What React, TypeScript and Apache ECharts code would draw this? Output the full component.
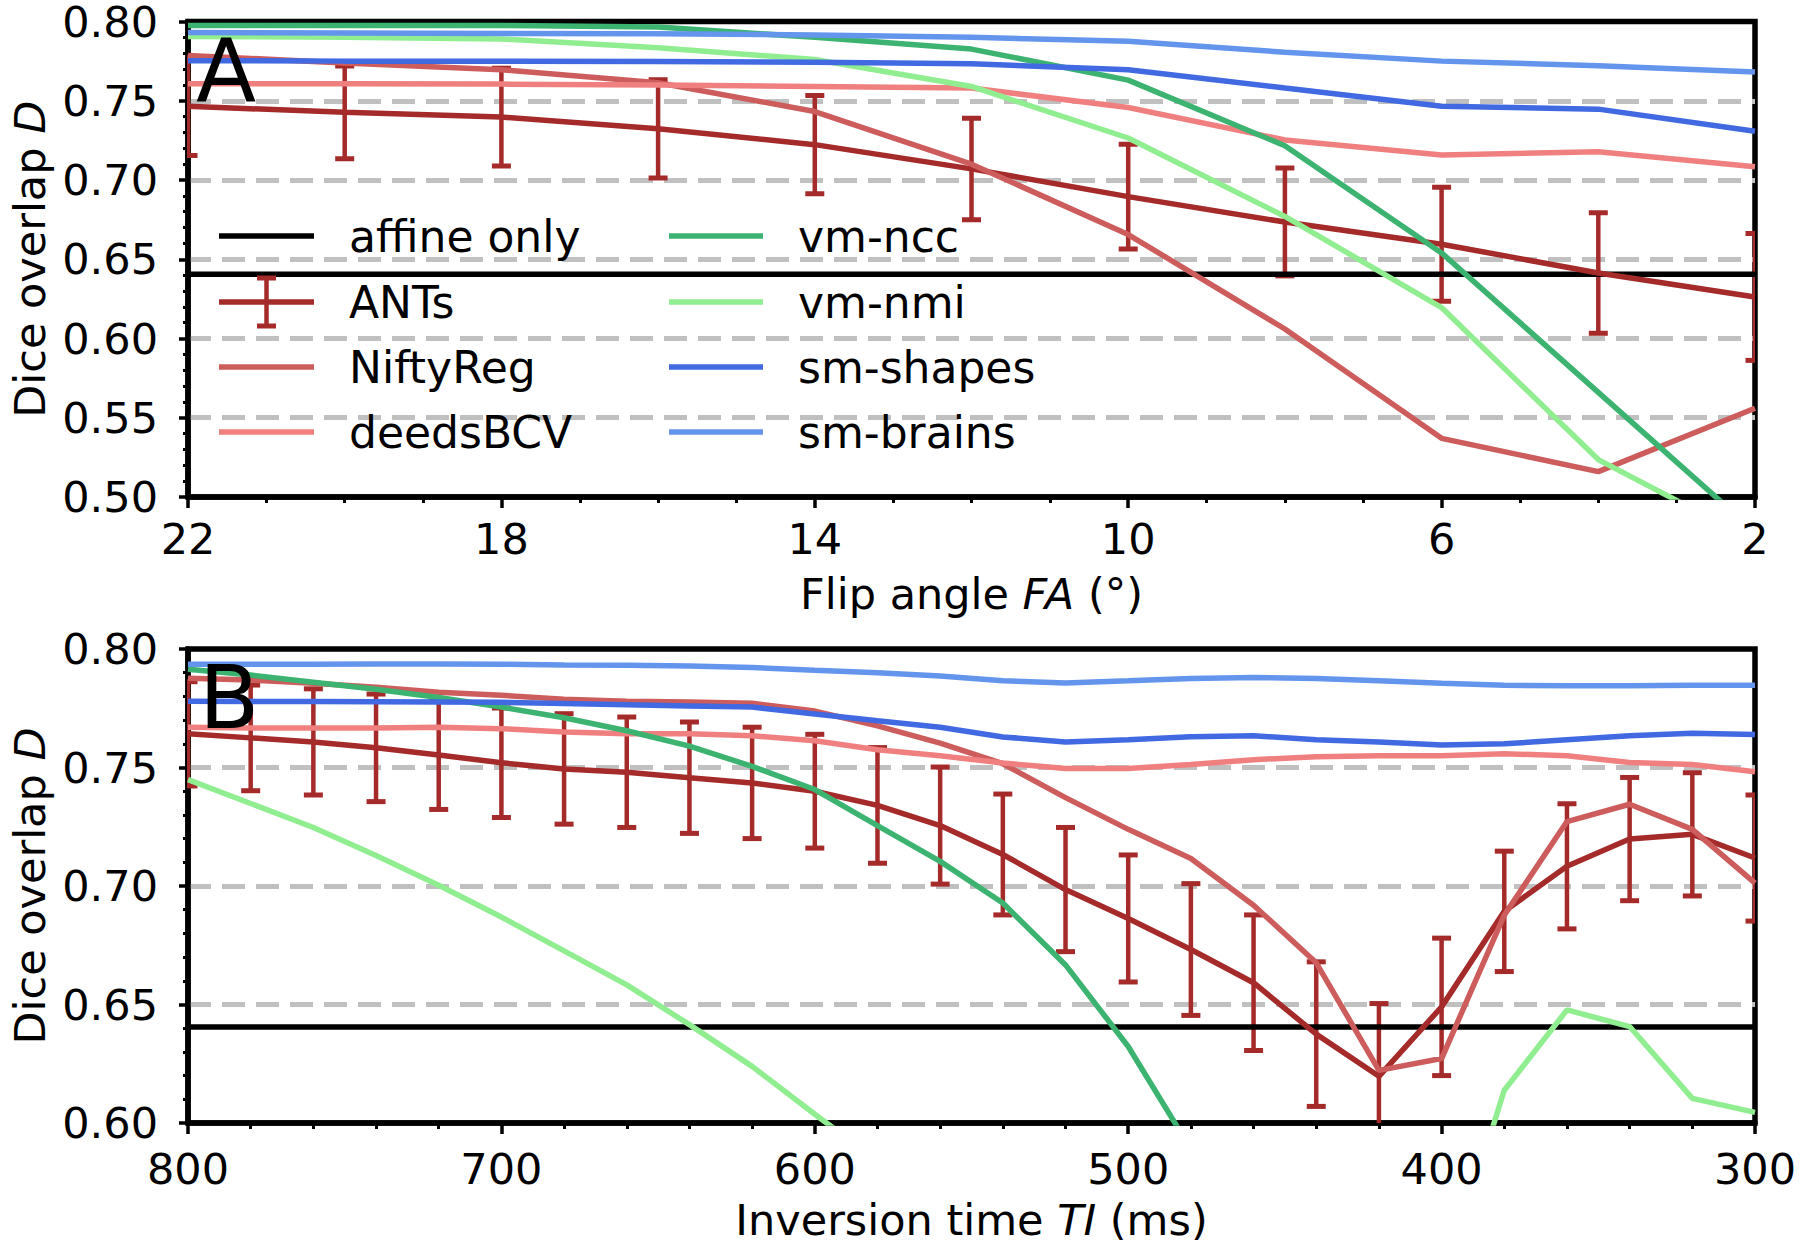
import React, { useEffect, useRef } from "react";
import * as echarts from "echarts";

const FONT = '"DejaVu Sans", "Liberation Sans", sans-serif';
const FS = 43;

// ---------- Panel A: flip angle ----------
const flipAngles = [22, 20, 18, 16, 14, 12, 10, 8, 6, 4, 2];
const affineA = 0.6405;
const antsMeanA = [0.7465, 0.7427, 0.7397, 0.7323, 0.7223, 0.707, 0.6895, 0.6735, 0.6595, 0.6413, 0.6262];
const antsStdA = [0.031, 0.0293, 0.0308, 0.031, 0.031, 0.032, 0.033, 0.034, 0.036, 0.038, 0.04];
const niftyRegA = [0.7786, 0.7738, 0.7696, 0.7614, 0.7432, 0.71, 0.6656, 0.606, 0.537, 0.516, 0.556];
const deedsA = [0.7608, 0.7607, 0.7605, 0.76, 0.759, 0.758, 0.7457, 0.7253, 0.7158, 0.7178, 0.7084];
const vmNccA = [0.7975, 0.7975, 0.7975, 0.7965, 0.79, 0.7826, 0.763, 0.7216, 0.654, 0.566, 0.478];
const vmNmiA = [0.7906, 0.79, 0.789, 0.7835, 0.776, 0.759, 0.7265, 0.677, 0.6195, 0.5236, 0.472];
const smShapesA = [0.7753, 0.775, 0.775, 0.7748, 0.7743, 0.7733, 0.7696, 0.758, 0.7465, 0.7447, 0.7308];
const smBrainsA = [0.7931, 0.7928, 0.7925, 0.7922, 0.7915, 0.79, 0.7875, 0.7806, 0.775, 0.7721, 0.7681];

// ---------- Panel B: inversion time ----------
const inversionTimes = [800, 780, 760, 740, 720, 700, 680, 660, 640, 620, 600, 580, 560, 540, 520, 500, 480, 460, 440, 420, 400, 380, 360, 340, 320, 300];
const affineB = 0.6405;
const antsMeanB = [0.7642, 0.7625, 0.7608, 0.7583, 0.7553, 0.752, 0.7494, 0.748, 0.7457, 0.7435, 0.74, 0.734, 0.7255, 0.7133, 0.6985, 0.6863, 0.6732, 0.6592, 0.6375, 0.6197, 0.649, 0.6893, 0.7083, 0.7198, 0.7218, 0.7118];
const antsStdB = [0.022, 0.0223, 0.0224, 0.0227, 0.023, 0.0231, 0.0233, 0.0233, 0.0235, 0.0235, 0.024, 0.0244, 0.0247, 0.0255, 0.0262, 0.0268, 0.0278, 0.0286, 0.0305, 0.0307, 0.029, 0.0254, 0.0264, 0.026, 0.026, 0.0266];
const niftyRegB = [0.7877, 0.7869, 0.7855, 0.7839, 0.7818, 0.7805, 0.7788, 0.778, 0.7776, 0.7771, 0.7738, 0.7676, 0.7603, 0.7516, 0.7373, 0.7239, 0.7116, 0.6919, 0.6676, 0.6222, 0.6272, 0.6877, 0.7272, 0.7345, 0.7239, 0.7012];
const deedsB = [0.767, 0.7667, 0.7667, 0.7667, 0.767, 0.7664, 0.765, 0.7642, 0.7642, 0.7634, 0.7613, 0.7575, 0.755, 0.7519, 0.7496, 0.7496, 0.7513, 0.7533, 0.7545, 0.755, 0.755, 0.7558, 0.755, 0.7521, 0.7513, 0.7482];
const vmNccB = [0.7915, 0.789, 0.786, 0.783, 0.7795, 0.7755, 0.771, 0.7655, 0.759, 0.7505, 0.7407, 0.7255, 0.7104, 0.6928, 0.6667, 0.6323, 0.589, null, null, null, null, null, null, null, null, null];
const vmNmiB = [0.7449, 0.7348, 0.7247, 0.7129, 0.7003, 0.6869, 0.6726, 0.6583, 0.6415, 0.6239, 0.6037, 0.584, null, null, null, null, null, null, null, null, 0.5295, 0.6138, 0.6477, 0.6407, 0.6104, 0.6045];
const smShapesB = [0.778, 0.7778, 0.7778, 0.7777, 0.7776, 0.7775, 0.777, 0.7765, 0.776, 0.7755, 0.7726, 0.7697, 0.767, 0.7629, 0.7608, 0.7617, 0.763, 0.7634, 0.7617, 0.7608, 0.7595, 0.76, 0.7617, 0.7634, 0.7645, 0.7639];
const smBrainsB = [0.7936, 0.7936, 0.7936, 0.7937, 0.7937, 0.7936, 0.7933, 0.7931, 0.7928, 0.7922, 0.791, 0.79, 0.7886, 0.7866, 0.7857, 0.7866, 0.7876, 0.788, 0.7876, 0.7866, 0.7855, 0.7847, 0.7845, 0.7845, 0.7847, 0.7847];

const seriesNames = ["affine only", "ANTs", "NiftyReg", "deedsBCV", "vm-ncc", "vm-nmi", "sm-shapes", "sm-brains"];
const seriesColors = ["#000000", "#a52a2a", "#cd5c5c", "#f08080", "#3cb371", "#90ee90", "#4169e1", "#6495ed"];

const LW = 5.5;
const SPINE = 5.5;
const BAR_W = 4.5;

function xAxis(gridIndex: number, min: number, max: number, interval: number, minorSplit: number, name: string, labelMargin: number) {
  return {
    type: "value",
    gridIndex,
    min,
    max,
    interval,
    inverse: true,
    name,
    nameLocation: "middle",
    nameGap: 75,
    nameTextStyle: {
      fontSize: FS,
      fontFamily: FONT,
      color: "#000",
      rich: { i: { fontStyle: "italic", fontSize: FS, fontFamily: FONT, color: "#000" } },
    },
    axisLine: { show: true, onZero: false, lineStyle: { color: "#000", width: SPINE } },
    axisTick: { show: true, length: 11, lineStyle: { color: "#000", width: 3.5 } },
    minorTick: { show: true, splitNumber: minorSplit, length: 6, lineStyle: { color: "#000", width: 3 } },
    axisLabel: { fontSize: FS, fontFamily: FONT, color: "#000", margin: labelMargin },
    splitLine: { show: false },
    minorSplitLine: { show: false },
  };
}

function yAxis(gridIndex: number, min: number, max: number) {
  return {
    type: "value",
    gridIndex,
    min,
    max,
    interval: 0.05,
    name: "Dice overlap {i|D}",
    nameLocation: "middle",
    nameGap: 137,
    nameRotate: 90,
    nameTextStyle: {
      fontSize: FS,
      fontFamily: FONT,
      color: "#000",
      rich: { i: { fontStyle: "italic", fontSize: FS, fontFamily: FONT, color: "#000" } },
    },
    axisLine: { show: true, onZero: false, lineStyle: { color: "#000", width: SPINE } },
    axisTick: { show: true, length: 9, lineStyle: { color: "#000", width: 3.5 } },
    minorTick: { show: true, splitNumber: 5, length: 5, lineStyle: { color: "#000", width: 3 } },
    axisLabel: {
      fontSize: FS,
      fontFamily: FONT,
      color: "#000",
      margin: 30,
      lineHeight: 32,
      formatter: (v: number) => v.toFixed(2),
    },
    splitLine: {
      show: true,
      showMinLine: false,
      showMaxLine: false,
      lineStyle: { color: "#c0c0c0", width: 5, type: [23, 11] },
    },
    minorSplitLine: { show: false },
  };
}

function lineSeries(idx: number, name: string, xs: number[], ys: (number | null)[], color: string) {
  return {
    type: "line",
    name,
    xAxisIndex: idx,
    yAxisIndex: idx,
    data: xs.map((x, i) => [x, ys[i]]),
    showSymbol: false,
    symbol: "none",
    connectNulls: false,
    clip: true,
    lineStyle: { color, width: LW },
    itemStyle: { color },
    emphasis: { disabled: true },
    z: 3,
  };
}

function errorSeries(idx: number, xs: number[], means: number[], stds: number[], color: string) {
  return {
    type: "custom",
    name: "ANTs",
    xAxisIndex: idx,
    yAxisIndex: idx,
    clip: true,
    z: 3,
    data: xs.map((x, i) => [x, means[i], stds[i]]),
    encode: { x: 0, y: 1 },
    renderItem: (_p: any, api: any) => {
      const x = api.value(0);
      const m = api.value(1);
      const s = api.value(2);
      const top = api.coord([x, m + s]);
      const bot = api.coord([x, m - s]);
      const hw = 9.5;
      return {
        type: "group",
        children: [
          { type: "line", shape: { x1: top[0], y1: top[1], x2: bot[0], y2: bot[1] }, style: { stroke: color, lineWidth: BAR_W } },
          { type: "line", shape: { x1: top[0] - hw, y1: top[1], x2: top[0] + hw, y2: top[1] }, style: { stroke: color, lineWidth: 5 } },
          { type: "line", shape: { x1: bot[0] - hw, y1: bot[1], x2: bot[0] + hw, y2: bot[1] }, style: { stroke: color, lineWidth: 5 } },
        ],
      };
    },
  };
}

function panelSeries(idx: number, xs: number[], affine: number, antsM: number[], antsS: number[], others: (number | null)[][]) {
  const xMax = Math.max(...xs);
  const xMin = Math.min(...xs);
  const out: any[] = [];
  out.push(lineSeries(idx, seriesNames[0], [xMax, xMin], [affine, affine], seriesColors[0]));
  out.push(lineSeries(idx, seriesNames[1], xs, antsM, seriesColors[1]));
  out.push(errorSeries(idx, xs, antsM, antsS, seriesColors[1]));
  others.forEach((ys, k) => {
    out.push(lineSeries(idx, seriesNames[k + 2], xs, ys, seriesColors[k + 2]));
  });
  return out;
}

function legendGraphics() {
  const rows = [236, 302, 367, 432];
  const cols = [
    { x1: 219, x2: 314, tx: 349 },
    { x1: 669, x2: 763, tx: 798 },
  ];
  const els: any[] = [];
  seriesNames.forEach((name, i) => {
    const c = cols[Math.floor(i / 4)];
    const y = rows[i % 4];
    const color = seriesColors[i];
    els.push({
      type: "line",
      shape: { x1: c.x1, y1: y, x2: c.x2, y2: y },
      style: { stroke: color, lineWidth: LW },
      z: 10,
    });
    if (name === "ANTs") {
      const cx = (c.x1 + c.x2) / 2;
      els.push({ type: "line", shape: { x1: cx, y1: y - 24, x2: cx, y2: y + 24 }, style: { stroke: color, lineWidth: BAR_W }, z: 10 });
      els.push({ type: "line", shape: { x1: cx - 9.5, y1: y - 24, x2: cx + 9.5, y2: y - 24 }, style: { stroke: color, lineWidth: 5 }, z: 10 });
      els.push({ type: "line", shape: { x1: cx - 9.5, y1: y + 24, x2: cx + 9.5, y2: y + 24 }, style: { stroke: color, lineWidth: 5 }, z: 10 });
    }
    els.push({
      type: "text",
      x: c.tx,
      y,
      z: 10,
      style: {
        text: name,
        fontSize: 44,
        fontFamily: FONT,
        fill: "#000",
        textAlign: "left",
        textVerticalAlign: "middle",
        align: "left",
        verticalAlign: "middle",
      },
    });
  });
  return els;
}

export default function App() {
  const ref = useRef<HTMLDivElement>(null);
  useEffect(() => {
    document.body.style.margin = "0";
    if (!ref.current) return;
    const chart = echarts.init(ref.current, null, { renderer: "svg" });
    const option: any = {
      animation: false,
      backgroundColor: "#ffffff",
      textStyle: { fontFamily: FONT },
      grid: [
        { left: 182, top: 20, width: 1573, height: 477, show: true, borderColor: "#000", borderWidth: SPINE, backgroundColor: "transparent" },
        { left: 182, top: 649, width: 1573, height: 474, show: true, borderColor: "#000", borderWidth: SPINE, backgroundColor: "transparent" },
      ],
      xAxis: [
        xAxis(0, 2, 22, 4, 4, "Flip angle {i|FA} (°)", 20),
        xAxis(1, 300, 800, 100, 5, "Inversion time {i|TI} (ms)", 24),
      ],
      yAxis: [yAxis(0, 0.5, 0.8), yAxis(1, 0.6, 0.8)],
      series: [
        ...panelSeries(0, flipAngles, affineA, antsMeanA, antsStdA, [niftyRegA, deedsA, vmNccA, vmNmiA, smShapesA, smBrainsA]),
        ...panelSeries(1, inversionTimes, affineB, antsMeanB, antsStdB, [niftyRegB, deedsB, vmNccB, vmNmiB, smShapesB, smBrainsB]),
      ],
      graphic: [
        {
          type: "text",
          x: 196,
          y: 26,
          z: 10,
          style: { text: "A", fontSize: 88, fontFamily: FONT, fill: "#000", textVerticalAlign: "top", verticalAlign: "top" },
        },
        {
          type: "text",
          x: 199,
          y: 653,
          z: 10,
          style: { text: "B", fontSize: 88, fontFamily: FONT, fill: "#000", textVerticalAlign: "top", verticalAlign: "top" },
        },
        ...legendGraphics(),
      ],
    };
    chart.setOption(option);
    return () => chart.dispose();
  }, []);
  return <div ref={ref} style={{ width: 1800, height: 1247 }} />;
}
